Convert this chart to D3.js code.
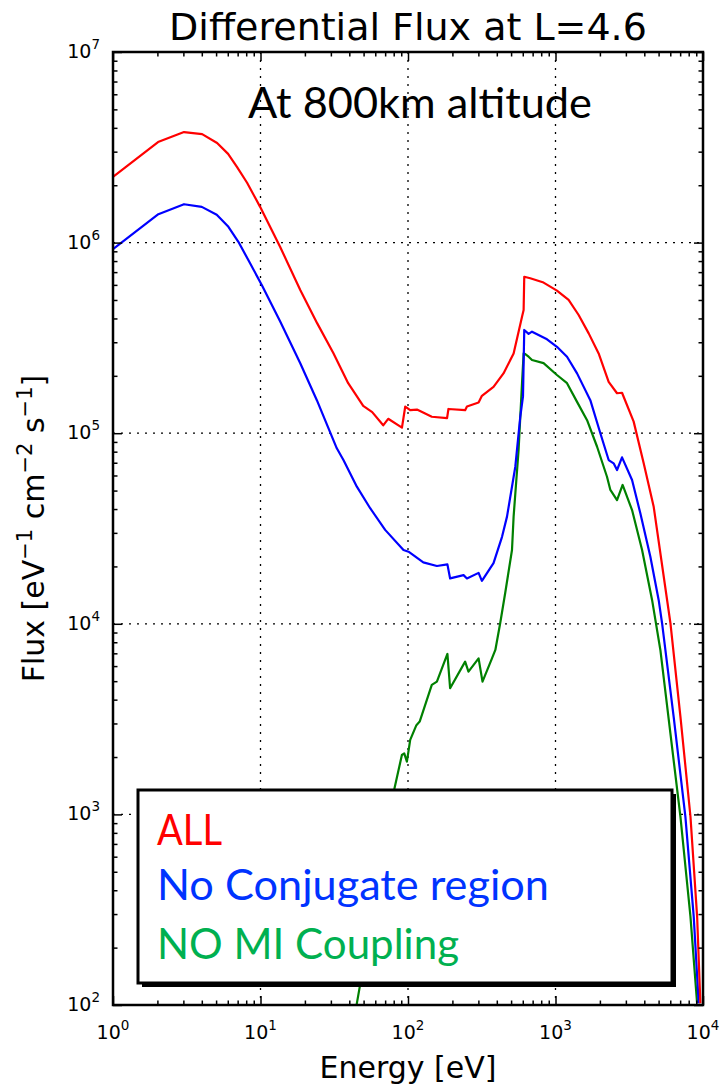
<!DOCTYPE html>
<html><head><meta charset="utf-8">
<script src="https://cdn.jsdelivr.net/npm/d3@7"></script>
<style>body{margin:0;background:#fff}</style>
</head><body>
<svg id="c" width="721" height="1087"></svg>
<script>
// ---- data ----
const energyAll = [1, 2.02, 3.03, 4.02, 5.08, 6.03, 6.94, 8.11, 9.94, 13.6, 18.6, 24.2, 31.1, 39.3, 49.7, 57.2, 67.9, 73.4, 91.0, 95.8, 103.5, 115, 145, 184, 188, 244, 251, 301, 317, 380, 444, 520, 593, 608, 614, 674, 830, 1023, 1227, 1435, 1679, 1961, 2293, 2613, 2825, 3388, 3962, 4632, 6012, 7030, 8222, 9124, 9600];
const fluxAll = [2.21e6, 3.37e6, 3.80e6, 3.71e6, 3.33e6, 2.92e6, 2.49e6, 2.06e6, 1.54e6, 9.48e5, 5.64e5, 3.78e5, 2.64e5, 1.83e5, 1.39e5, 1.29e5, 1.10e5, 1.19e5, 1.07e5, 1.38e5, 1.32e5, 1.33e5, 1.22e5, 1.20e5, 1.34e5, 1.32e5, 1.38e5, 1.45e5, 1.57e5, 1.75e5, 2.06e5, 2.62e5, 4.08e5, 4.43e5, 6.62e5, 6.50e5, 6.17e5, 5.60e5, 5.00e5, 4.17e5, 3.34e5, 2.62e5, 1.86e5, 1.62e5, 1.63e5, 1.15e5, 6.95e4, 4.11e4, 1.01e4, 3.26e3, 975, 291, 102];

const energyNoConj = [1, 2.03, 3.03, 4.00, 5.05, 6.06, 7.08, 8.50, 10.2, 13.6, 18.6, 24.1, 32.9, 36.5, 45.0, 55.4, 70.0, 93.2, 100.8, 127, 157, 185, 193, 238, 251, 301, 317, 380, 434, 469, 534, 577, 602, 614, 657, 693, 876, 1023, 1197, 1400, 1722, 2014, 2293, 2478, 2613, 2825, 3304, 3760, 4397, 5008, 5276, 6324, 7596, 8652, 9350];
const fluxNoConj = [9.25e5, 1.41e6, 1.59e6, 1.54e6, 1.40e6, 1.21e6, 1.01e6, 7.79e5, 5.99e5, 3.85e5, 2.33e5, 1.49e5, 8.33e4, 7.23e4, 5.24e4, 4.04e4, 3.11e4, 2.44e4, 2.39e4, 2.10e4, 2.01e4, 2.05e4, 1.73e4, 1.80e4, 1.73e4, 1.85e4, 1.68e4, 2.08e4, 2.86e4, 3.65e4, 6.67e4, 1.22e5, 1.56e5, 3.48e5, 3.32e5, 3.41e5, 3.11e5, 2.84e5, 2.52e5, 2.06e5, 1.49e5, 1.00e5, 7.23e4, 6.95e4, 6.41e4, 7.47e4, 5.68e4, 3.80e4, 2.25e4, 1.33e4, 1.01e4, 3.26e3, 973, 291, 102];

const energyNoMI = [40, 45, 81, 90.9, 94.3, 98.3, 103.5, 114, 120, 145, 157, 185, 193, 244, 257, 301, 320, 371, 391, 422, 456, 507, 520, 562, 593, 608, 624, 657, 693, 830, 1023, 1197, 1400, 1637, 1914, 2234, 2355, 2613, 2851, 3304, 3864, 4519, 5140, 6012, 7030, 8222, 9124];
const fluxNoMI = [60, 102, 1.37e3, 2.05e3, 2.09e3, 1.89e3, 2.46e3, 2.94e3, 3.07e3, 4.78e3, 4.97e3, 6.95e3, 4.59e3, 6.33e3, 5.61e3, 6.59e3, 4.97e3, 6.59e3, 7.29e3, 1.01e4, 1.45e4, 2.44e4, 3.65e4, 8.16e4, 1.83e5, 2.62e5, 2.60e5, 2.52e5, 2.42e5, 2.33e5, 2.02e5, 1.83e5, 1.46e5, 1.17e5, 8.49e4, 5.91e4, 5.04e4, 4.46e4, 5.35e4, 3.95e4, 2.44e4, 1.33e4, 7.29e3, 2.66e3, 973, 291, 102];

const seriesNames = ["ALL", "No Conjugate region", "NO MI Coupling"];
const xTickExponents = [0, 1, 2, 3, 4];
const yTickExponents = [2, 3, 4, 5, 6, 7];
const titleText = "Differential Flux at L=4.6";
const subtitleText = "At 800km altitude";

// ---- layout ----
const L = 113, R = 703, T = 52, B = 1005;
const svg = d3.select("#c");
const x = d3.scaleLog().domain([1, 1e4]).range([L, R]);
const y = d3.scaleLog().domain([1e2, 1e7]).range([B, T]);

svg.append("defs").append("clipPath").attr("id", "clip")
  .append("rect").attr("x", L).attr("y", T).attr("width", R - L).attr("height", B - T);

// grid
const gridX = [10, 100, 1000], gridY = [1e3, 1e4, 1e5, 1e6];
const grid = svg.append("g").attr("stroke", "#000").attr("stroke-width", 1.3).attr("stroke-dasharray", "2,6");
grid.selectAll(".gx").data(gridX).join("line").attr("x1", d => x(d)).attr("x2", d => x(d)).attr("y1", T).attr("y2", B);
grid.selectAll(".gy").data(gridY).join("line").attr("y1", d => y(d)).attr("y2", d => y(d)).attr("x1", L).attr("x2", R);

// curves
const lineGen = (ex, fy) => d3.line().x((d, i) => x(ex[i])).y((d, i) => y(fy[i]))(ex);
const curves = svg.append("g").attr("clip-path", "url(#clip)").attr("fill", "none").attr("stroke-width", 2.2).attr("stroke-linejoin", "round");
curves.append("path").attr("d", lineGen(energyNoMI, fluxNoMI)).attr("stroke", "#008000");
curves.append("path").attr("d", lineGen(energyNoConj, fluxNoConj)).attr("stroke", "#0000ff");
curves.append("path").attr("d", lineGen(energyAll, fluxAll)).attr("stroke", "#ff0000");

// ticks
const majX = xTickExponents.map(e => Math.pow(10, e));
const majY = yTickExponents.map(e => Math.pow(10, e));
const minX = [], minY = [];
for (let e = 0; e < 4; e++) for (let k = 2; k <= 9; k++) minX.push(k * Math.pow(10, e));
for (let e = 2; e < 7; e++) for (let k = 2; k <= 9; k++) minY.push(k * Math.pow(10, e));
function addAxis(axisFn, scale, vals, size, tr) {
  const g = svg.append("g").attr("transform", tr)
    .call(axisFn(scale).tickValues(vals).tickSize(-size).tickFormat(""));
  g.select(".domain").remove();
  g.selectAll("line").attr("stroke", "#000").attr("stroke-width", 1.5);
}
[[majX, 9], [minX, 4.5]].forEach(([v, s]) => {
  addAxis(d3.axisBottom, x, v, s, `translate(0,${B})`);
  addAxis(d3.axisTop, x, v, s, `translate(0,${T})`);
});
[[majY, 9], [minY, 4.5]].forEach(([v, s]) => {
  addAxis(d3.axisLeft, y, v, s, `translate(${L},0)`);
  addAxis(d3.axisRight, y, v, s, `translate(${R},0)`);
});

// frame
svg.append("rect").attr("x", L).attr("y", T).attr("width", R - L).attr("height", B - T)
  .attr("fill", "none").attr("stroke", "#000").attr("stroke-width", 2.5);

// tick labels
const font = "DejaVu Sans";
xTickExponents.forEach(e => {
  const t = svg.append("text").attr("x", x(Math.pow(10, e))).attr("y", 1039)
    .attr("text-anchor", "middle").attr("font-family", font).attr("font-size", 19);
  t.append("tspan").text("10");
  t.append("tspan").attr("dy", -9).attr("font-size", 13.5).text(e);
});
yTickExponents.forEach(e => {
  const t = svg.append("text").attr("x", 100).attr("y", y(Math.pow(10, e)) + 6)
    .attr("text-anchor", "end").attr("font-family", font).attr("font-size", 19);
  t.append("tspan").text("10");
  t.append("tspan").attr("dy", -9).attr("font-size", 13.5).text(e);
});

// axis labels
svg.append("text").attr("x", (L + R) / 2).attr("y", 1078).attr("text-anchor", "middle")
  .attr("font-family", font).attr("font-size", 30).text("Energy [eV]");
const yl = svg.append("text").attr("transform", `translate(44,${(T + B) / 2}) rotate(-90)`)
  .attr("text-anchor", "middle").attr("font-family", font).attr("font-size", 30);
yl.append("tspan").text("Flux [eV");
yl.append("tspan").attr("dy", -12).attr("font-size", 21).text("\u22121");
yl.append("tspan").attr("dy", 12).text(" cm");
yl.append("tspan").attr("dy", -12).attr("font-size", 21).text("\u22122");
yl.append("tspan").attr("dy", 12).text(" s");
yl.append("tspan").attr("dy", -12).attr("font-size", 21).text("\u22121");
yl.append("tspan").attr("dy", 12).text("]");

// titles
svg.append("text").attr("x", (L + R) / 2).attr("y", 40).attr("text-anchor", "middle")
  .attr("font-family", font).attr("font-size", 38).text(titleText);
svg.append("text").attr("x", 248).attr("y", 118)
  .attr("font-family", "Lato").attr("font-size", 42)
  .attr("textLength", 344).attr("lengthAdjust", "spacingAndGlyphs").text(subtitleText);

// legend
const lg = { x: 138, y: 790, w: 534, h: 193 };
svg.append("rect").attr("x", lg.x + 4).attr("y", lg.y + 4).attr("width", lg.w).attr("height", lg.h).attr("fill", "#000");
svg.append("rect").attr("x", lg.x).attr("y", lg.y).attr("width", lg.w).attr("height", lg.h)
  .attr("fill", "#fff").attr("stroke", "#000").attr("stroke-width", 3);
const legColors = ["#ff0000", "#0033ff", "#00b050"];
const legBase = [845, 900, 959];
const legLen = [65, 392, 302];
seriesNames.forEach((n, i) => {
  svg.append("text").attr("x", 157).attr("y", legBase[i]).attr("fill", legColors[i])
    .attr("font-family", "Lato").attr("font-size", 43)
    .attr("textLength", legLen[i]).attr("lengthAdjust", "spacingAndGlyphs").text(n);
});
</script>
</body></html>
